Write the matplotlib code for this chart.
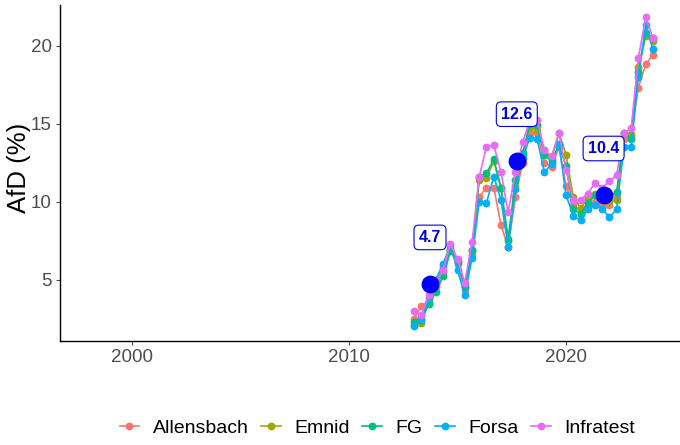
import matplotlib
matplotlib.use("Agg")
import matplotlib.pyplot as plt
from matplotlib.lines import Line2D

plt.rcParams['font.family'] = ['Liberation Sans', 'DejaVu Sans']

dates = [2013.0, 2013.33, 2013.67, 2014.0, 2014.33, 2014.67, 2015.0, 2015.33, 2015.67,
         2016.0, 2016.33, 2016.67, 2017.0, 2017.33, 2017.67, 2018.0, 2018.33, 2018.67,
         2019.0, 2019.33, 2019.67, 2020.0, 2020.33, 2020.67, 2021.0, 2021.33, 2021.67,
         2022.0, 2022.33, 2022.67, 2023.0, 2023.33, 2023.67, 2024.0]

allensbach = [2.5, 3.3, 3.6, 4.5, 5.5, 6.9, 6.0, 4.3, 6.6, 10.3, 10.9, 10.9, 8.5, 7.1, 10.3, 12.5, 14.4,
              14.4, 12.5, 12.2, 13.5, 11.0, 9.8, 9.4, 9.8, 10.0, 9.8, 9.8, 10.3, 14.0, 14.2, 17.3, 18.8, 19.4]
emnid = [2.1, 2.2, 3.5, 4.8, 5.8, 7.0, 6.2, 4.6, 6.8, 11.4, 11.5, 12.6, 10.9, 7.5, 11.0, 13.0, 14.8,
         14.6, 13.3, 12.7, 14.4, 13.0, 10.3, 9.6, 10.2, 10.5, 10.2, 10.0, 10.1, 14.4, 14.3, 18.65, 20.6, 20.3]
fg = [2.3, 2.5, 3.4, 4.2, 5.2, 6.8, 6.1, 4.5, 6.9, 11.6, 11.8, 12.7, 10.9, 7.6, 11.4, 13.1, 15.0,
      14.9, 13.0, 12.6, 13.6, 12.3, 9.5, 9.2, 9.9, 10.4, 10.4, 10.3, 10.6, 14.4, 14.0, 18.3, 20.8, 20.5]
forsa = [2.0, 2.4, 3.8, 5.0, 6.0, 7.2, 5.6, 4.0, 6.4, 10.0, 9.9, 11.6, 10.1, 7.1, 10.8, 12.8, 14.1,
         14.0, 11.9, 12.4, 13.7, 10.4, 9.1, 8.8, 9.5, 9.8, 9.5, 9.0, 9.5, 13.5, 13.5, 18.0, 21.3, 19.8]
infratest = [3.0, 2.7, 4.0, 4.7, 5.6, 7.3, 6.3, 4.8, 7.4, 11.6, 13.5, 13.6, 11.9, 9.3, 11.9, 13.8, 15.2,
             15.2, 13.3, 12.9, 14.4, 12.0, 10.1, 10.1, 10.5, 11.2, 10.9, 11.3, 11.7, 14.4, 14.7, 19.2, 21.8, 20.5]

pollsters = ["Allensbach", "Emnid", "FG", "Forsa", "Infratest"]
series = [allensbach, emnid, fg, forsa, infratest]
colors = ["#F8766D", "#A3A500", "#00BF7D", "#00B0F6", "#E76BF3"]

election_dates = [2013.73, 2017.73, 2021.73]
election_values = [4.7, 12.6, 10.4]
election_labels = ["4.7", "12.6", "10.4"]

fig = plt.figure(figsize=(6.8, 4.45), dpi=100)
ax = fig.add_axes([0.0882, 0.2337, 0.9118, 0.7551])

for name, vals, col in zip(pollsters, series, colors):
    ax.plot(dates, vals, color=col, lw=1.2, marker='o', ms=4.6, label=name, zorder=2)

ax.scatter(election_dates, election_values, s=140, color="#0000FF", zorder=4)
for d, v, lab in zip(election_dates, election_values, election_labels):
    ax.text(d, v + 3.0, lab, ha='center', va='center', fontsize=11.5, fontweight='bold',
            color="#0000DD",
            bbox=dict(boxstyle="round,pad=0.3,rounding_size=0.3", fc="white", ec="#0000DD", lw=0.8),
            zorder=5)

ax.set_xlim(1996.68, 2025.25)
ax.set_ylim(1.06, 22.6)
ax.set_xticks([2000, 2010, 2020])
ax.set_yticks([5, 10, 15, 20])
ax.tick_params(axis='both', labelsize=13.5, colors='#4D4D4D', length=3, width=0.8, pad=3)
for s in ['top', 'right']:
    ax.spines[s].set_visible(False)
for s in ['left', 'bottom']:
    ax.spines[s].set_color('black')
    ax.spines[s].set_linewidth(1.0)
ax.set_ylabel("AfD (%)", fontsize=18.5)
ax.yaxis.set_label_coords(-0.046, 0.515)

handles = [Line2D([0], [0], color=c, lw=1.2, marker='o', ms=4.6) for c in colors]
fig.legend(handles, pollsters, loc='center', bbox_to_anchor=(0.555, 0.038), ncol=5,
           frameon=False, fontsize=14, handlelength=1.0, columnspacing=0.65, handletextpad=0.7)

fig.savefig("out.png", dpi=100)
